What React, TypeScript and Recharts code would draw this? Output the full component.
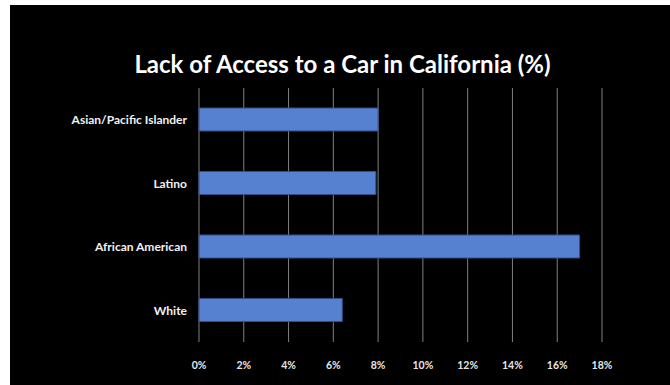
import React from 'react'
import { BarChart, Bar, XAxis, YAxis, CartesianGrid } from 'recharts'

// Lack of access to a car, California (%)
const groups = ['Asian/Pacific Islander', 'Latino', 'African American', 'White']
const shares = [8.0, 7.9, 17.0, 6.4]
const xTicks = [0, 2, 4, 6, 8, 10, 12, 14, 16, 18]

const data = groups.map((g, i) => ({ group: g, share: shares[i] }))

const FONT = 'Lato, "Open Sans", sans-serif'

export default function App() {
  return (
    <div
      style={{
        position: 'absolute',
        left: 10,
        top: 5,
        width: 660,
        height: 380,
        background: '#000',
        fontFamily: FONT,
      }}
    >
      <div
        style={{
          position: 'absolute',
          left: 0,
          top: 46,
          width: 665,
          textAlign: 'center',
          color: '#fff',
          fontWeight: 700,
          fontSize: 24,
          lineHeight: '26px',
        }}
      >
        Lack of Access to a Car in California (%)
      </div>
      <BarChart
        width={660}
        height={380}
        data={data}
        layout="vertical"
        margin={{ top: 83, right: 68, bottom: 0, left: 0 }}
      >
        <CartesianGrid horizontal={false} stroke="#808080" strokeWidth={1} />
        <XAxis
          type="number"
          domain={[0, 18]}
          ticks={xTicks}
          tickFormatter={(v: number) => `${v}%`}
          axisLine={false}
          tickLine={false}
          tickSize={0}
          tickMargin={20}
          height={43}
          interval={0}
          tick={{ fontSize: 10.5, fill: '#e6e6e6', fontWeight: 700, fontFamily: FONT }}
        />
        <YAxis
          type="category"
          dataKey="group"
          width={189}
          axisLine={false}
          tickLine={false}
          tickSize={0}
          tickMargin={12}
          tick={{ fontSize: 12, fill: '#f2f2f2', fontWeight: 700, fontFamily: FONT }}
        />
        <Bar
          dataKey="share"
          fill="#5680D0"
          stroke="#2F4F8A"
          strokeWidth={1}
          barSize={23}
          isAnimationActive={false}
        />
      </BarChart>
    </div>
  )
}
